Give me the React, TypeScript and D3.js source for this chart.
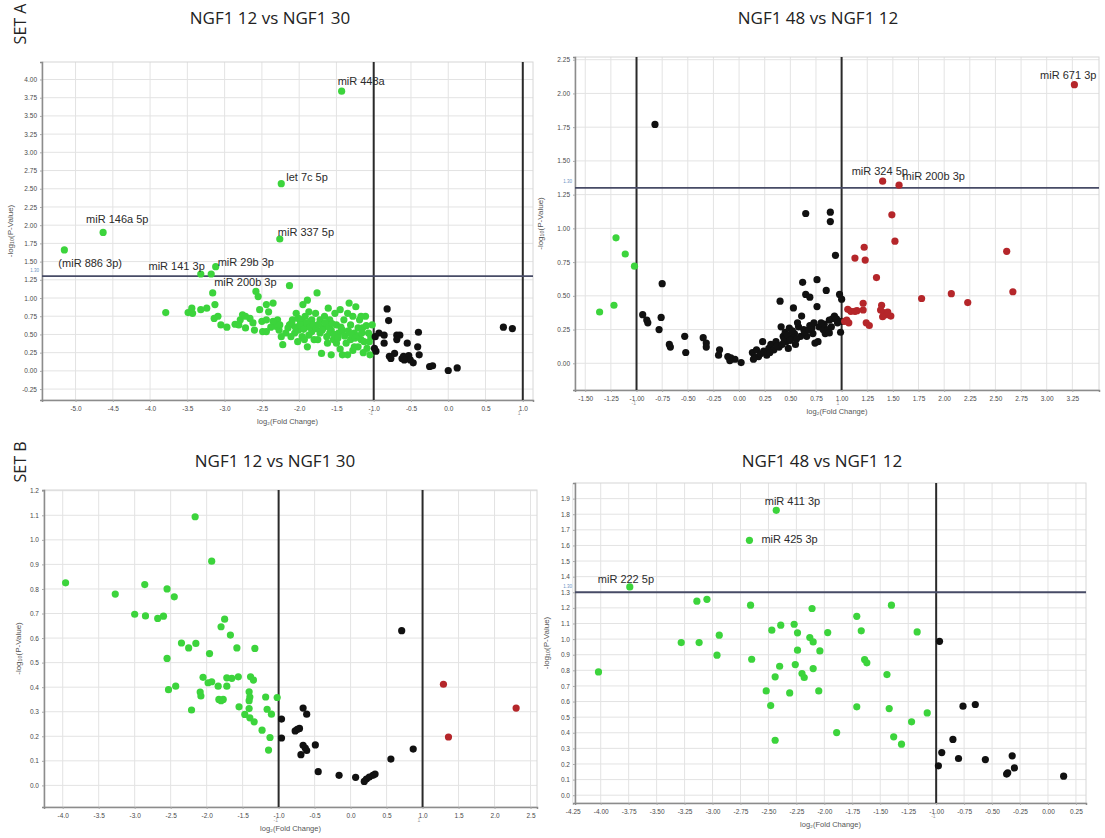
import React, { useEffect, useRef } from "react";
import * as d3 from "d3";

type Pt = [number, number];
type Lab = { name: string; x: number; y: number; color: string };

const GREEN = "#3cd43c";
const BLACK = "#111111";
const RED = "#b5262a";

// ---------- SET A : NGF1 12 vs NGF1 30 ----------
const a1Green: Pt[] = [
  [-3.79, 0.8], [-3.49, 0.8], [-3.44, 0.86], [-3.43, 0.79], [-3.24, 0.86], [-3.16, 1.07], [-3.13, 0.91],
  [-3.09, 0.75], [-3.05, 0.63], [-2.97, 0.6], [-2.81, 0.63], [-2.79, 0.7], [-2.76, 0.77], [-2.72, 0.59],
  [-2.66, 0.72], [-2.58, 1.09], [-2.55, 1.02], [-2.53, 0.84], [-2.5, 0.68], [-2.49, 0.54], [-2.44, 0.91],
  [-2.41, 0.81], [-2.35, 0.93], [-2.31, 0.61], [-2.29, 0.7], [-2.27, 0.56], [-2.22, 0.36], [-2.18, 0.52],
  [-2.13, 1.17], [-2.13, 0.63], [-2.09, 0.7], [-2.06, 0.52], [-2.04, 0.79], [-2.01, 0.56], [-1.98, 0.68],
  [-1.96, 0.47], [-1.95, 0.91], [-1.92, 0.61], [-1.89, 0.97], [-1.87, 0.81], [-1.85, 0.68], [-1.83, 0.54],
  [-1.8, 0.43], [-1.76, 1.07], [-1.72, 0.7], [-1.7, 0.24], [-1.68, 0.59], [-1.66, 0.75], [-1.63, 0.47],
  [-1.61, 0.86], [-1.59, 0.7], [-1.57, 0.56], [-1.54, 0.43], [-1.52, 0.79], [-1.5, 0.63], [-1.47, 0.52],
  [-1.45, 0.84], [-1.42, 0.22], [-1.4, 0.7], [-1.37, 0.38], [-1.35, 0.22], [-1.33, 0.93], [-1.31, 0.63],
  [-1.28, 0.75], [-1.26, 0.52], [-1.24, 0.88], [-1.21, 0.33], [-1.19, 0.7], [-1.17, 0.43], [-1.15, 0.59],
  [-1.11, 0.75], [-1.09, 0.31], [-1.07, 0.52], [-1.05, 0.22], [-1.02, 0.63], [-2.35, 0.68], [-2.15, 0.59],
  [-1.89, 0.33], [-1.57, 0.22], [-2.72, 0.75], [-2.44, 0.7], [-1.78, 0.79], [-2.24, 0.47], [-1.96, 0.7],
  [-1.92, 0.75], [-1.83, 0.7], [-1.72, 0.52], [-1.59, 0.52], [-1.5, 0.38], [-1.31, 0.43], [-1.17, 0.75],
  [-1.26, 0.33], [-2.11, 0.47], [-2.01, 0.72], [-1.87, 0.49], [-1.63, 0.63], [-1.42, 0.56], [-1.21, 0.59],
  [-1.35, 0.79], [-2.44, 0.54], [-2.6, 0.56], [-2.1, 0.66], [-2.05, 0.6], [-1.99, 0.63], [-1.94, 0.57],
  [-1.9, 0.66], [-1.86, 0.6], [-1.81, 0.63], [-1.77, 0.58], [-1.74, 0.64], [-1.69, 0.56], [-1.65, 0.66],
  [-1.6, 0.6], [-1.56, 0.65], [-1.53, 0.5], [-1.48, 0.45], [-1.44, 0.6], [-1.39, 0.48], [-1.34, 0.55],
  [-1.3, 0.5], [-1.25, 0.45], [-1.2, 0.48], [-1.16, 0.52], [-1.13, 0.4], [-1.1, 0.62], [-1.06, 0.4],
  [-1.04, 0.47], [-2.02, 0.4], [-1.93, 0.43], [-1.75, 0.43], [-1.62, 0.38], [-1.45, 0.3], [-1.28, 0.28],
  [-1.14, 0.25], [-2.26, 0.63], [-2.38, 0.6], [-2.62, 0.66], [-2.86, 0.64], [-3.32, 0.84], [-3.14, 0.72],
];
const a1Black: Pt[] = [
  [-0.97, 0.27], [-0.98, 0.47], [-0.93, 0.52], [-0.86, 0.49], [-0.86, 0.38], [-0.82, 0.85], [-0.8, 0.69],
  [-0.79, 0.2], [-0.72, 0.24], [-0.69, 0.49], [-0.65, 0.49], [-0.69, 0.43], [-0.62, 0.17], [-0.6, 0.2],
  [-0.55, 0.38], [-0.53, 0.21], [-0.51, 0.15], [-0.47, 0.11], [-0.41, 0.33], [-0.4, 0.53], [-0.39, 0.22],
  [-0.25, 0.06], [-0.21, 0.07], [0.0, 0.005], [0.12, 0.04], [0.74, 0.6], [0.86, 0.58], [-0.77, 0.17],
  [-0.99, 0.31], [-0.59, 0.15],
];
const a1Labeled: Lab[] = [
  { name: "miR 448a", x: -1.43, y: 3.84, color: GREEN },
  { name: "let 7c 5p", x: -2.24, y: 2.57, color: GREEN },
  { name: "miR 146a 5p", x: -4.63, y: 1.9, color: GREEN },
  { name: "(miR 886 3p)", x: -5.15, y: 1.66, color: GREEN },
  { name: "miR 337 5p", x: -2.26, y: 1.81, color: GREEN },
  { name: "miR 29b 3p", x: -3.12, y: 1.43, color: GREEN },
  { name: "miR 141 3p", x: -3.32, y: 1.33, color: GREEN },
  { name: "miR 200b 3p", x: -3.18, y: 1.33, color: GREEN },
];

// ---------- SET A : NGF1 48 vs NGF1 12 ----------
const a2Green: Pt[] = [[-1.36, 0.38], [-1.22, 0.43], [-1.2, 0.93], [-1.11, 0.81], [-1.02, 0.72]];
const a2Black: Pt[] = [
  [-0.82, 1.77], [-0.75, 0.59], [-0.94, 0.36], [-0.9, 0.32], [-0.89, 0.3], [-0.76, 0.34], [-0.78, 0.25],
  [-0.68, 0.14], [-0.67, 0.12], [-0.53, 0.2], [-0.52, 0.08], [-0.35, 0.19], [-0.32, 0.15], [-0.32, 0.12],
  [-0.19, 0.1], [-0.2, 0.06], [-0.11, 0.05], [-0.08, 0.04], [-0.04, 0.03], [0.02, 0.005], [0.13, 0.08],
  [0.15, 0.045], [0.17, 0.1], [0.19, 0.05], [0.23, 0.16], [0.24, 0.09], [0.27, 0.06], [0.29, 0.11],
  [0.31, 0.14], [0.34, 0.1], [0.36, 0.16], [0.39, 0.12], [0.4, 0.46], [0.41, 0.27], [0.43, 0.2],
  [0.45, 0.23], [0.46, 0.16], [0.49, 0.26], [0.51, 0.19], [0.53, 0.41], [0.54, 0.22], [0.58, 0.27],
  [0.6, 0.2], [0.61, 0.35], [0.62, 0.6], [0.63, 0.25], [0.65, 0.51], [0.66, 0.2], [0.69, 0.49],
  [0.69, 0.28], [0.72, 0.22], [0.74, 0.15], [0.76, 0.62], [0.76, 0.42], [0.78, 0.27], [0.82, 0.25],
  [0.84, 0.22], [0.85, 0.54], [0.88, 0.32], [0.91, 0.33], [0.9, 0.27], [0.65, 1.11], [0.89, 1.12],
  [0.89, 1.05], [0.94, 0.8], [0.98, 0.51], [1.0, 0.475], [0.93, 0.35], [0.95, 0.33], [1.0, 0.31],
  [0.99, 0.23], [0.96, 0.3], [0.83, 0.29], [0.87, 0.25], [0.88, 0.225], [0.77, 0.16], [0.44, 0.18],
  [0.47, 0.21], [0.5, 0.17], [0.52, 0.24], [0.56, 0.18], [0.57, 0.3], [0.64, 0.23], [0.68, 0.25],
  [0.71, 0.26], [0.73, 0.3], [0.8, 0.3], [0.3, 0.08], [0.21, 0.07], [0.37, 0.13], [0.42, 0.14],
  [0.55, 0.14], [0.48, 0.11], [-0.09, 0.02], [0.14, 0.03],
];
const a2Red: Pt[] = [
  [1.49, 1.1], [1.52, 0.905], [1.22, 0.86], [1.13, 0.78], [1.23, 0.765], [1.34, 0.635], [1.78, 0.48],
  [2.07, 0.516], [2.23, 0.45], [2.61, 0.83], [2.67, 0.53], [1.06, 0.4], [1.09, 0.385], [1.13, 0.385],
  [1.15, 0.39], [1.21, 0.445], [1.21, 0.395], [1.39, 0.43], [1.38, 0.395], [1.41, 0.375], [1.44, 0.36],
  [1.4, 0.345], [1.48, 0.35], [1.24, 0.3], [1.27, 0.28], [1.03, 0.31], [1.07, 0.3], [1.05, 0.32],
  [1.45, 0.38],
];
const a2Labeled: Lab[] = [
  { name: "miR 671 3p", x: 3.27, y: 2.065, color: RED },
  { name: "miR 324 5p", x: 1.4, y: 1.35, color: RED },
  { name: "miR 200b 3p", x: 1.56, y: 1.32, color: RED },
];

// ---------- SET B : NGF1 12 vs NGF1 30 ----------
const b1Green: Pt[] = [
  [-2.16, 1.094], [-1.93, 0.913], [-3.96, 0.825], [-3.27, 0.779], [-2.86, 0.818], [-2.55, 0.8],
  [-2.45, 0.768], [-3.0, 0.697], [-2.85, 0.69], [-2.68, 0.68], [-2.6, 0.689], [-1.75, 0.677],
  [-1.8, 0.646], [-1.67, 0.612], [-2.35, 0.58], [-2.25, 0.56], [-2.15, 0.578], [-1.58, 0.56],
  [-1.33, 0.558], [-1.96, 0.537], [-2.55, 0.517], [-2.05, 0.44], [-1.98, 0.418], [-1.93, 0.422],
  [-1.84, 0.404], [-1.72, 0.438], [-1.65, 0.436], [-1.56, 0.442], [-1.72, 0.404], [-2.53, 0.39],
  [-2.43, 0.404], [-2.09, 0.38], [-2.08, 0.364], [-1.83, 0.35], [-1.8, 0.345], [-1.77, 0.35],
  [-2.21, 0.307], [-1.39, 0.442], [-1.35, 0.429], [-1.41, 0.381], [-1.4, 0.36], [-1.41, 0.345],
  [-1.55, 0.32], [-1.47, 0.289], [-1.4, 0.275], [-1.34, 0.259], [-1.41, 0.313], [-1.18, 0.36],
  [-1.16, 0.31], [-1.1, 0.29], [-1.23, 0.225], [-1.12, 0.195], [-1.14, 0.144], [-1.02, 0.358],
];
const b1Black: Pt[] = [
  [-0.96, 0.27], [-0.96, 0.193], [-0.66, 0.315], [-0.61, 0.29], [-0.77, 0.222], [-0.74, 0.228],
  [-0.71, 0.232], [-0.66, 0.163], [-0.63, 0.152], [-0.61, 0.142], [-0.49, 0.165], [-0.69, 0.125],
  [-0.45, 0.056], [-0.16, 0.041], [0.07, 0.033], [0.19, 0.016], [0.22, 0.026], [0.26, 0.034],
  [0.31, 0.041], [0.34, 0.046], [0.56, 0.107], [0.71, 0.63], [0.87, 0.148],
];
const b1Red: Pt[] = [[1.29, 0.412], [1.36, 0.197], [2.3, 0.315]];

// ---------- SET B : NGF1 48 vs NGF1 12 ----------
const b2Green: Pt[] = [
  [-4.02, 0.79], [-3.28, 0.978], [-3.12, 0.978], [-3.14, 1.243], [-3.05, 1.255], [-2.94, 1.025],
  [-2.96, 0.897], [-2.66, 1.217], [-2.65, 0.871], [-2.47, 1.057], [-2.39, 1.089], [-2.52, 0.668],
  [-2.48, 0.574], [-2.44, 0.352], [-2.44, 0.758], [-2.4, 0.826], [-2.31, 0.655], [-2.27, 1.095],
  [-2.24, 1.04], [-2.24, 0.929], [-2.26, 0.837], [-2.2, 0.779], [-2.18, 0.754], [-2.13, 1.01],
  [-2.1, 0.982], [-2.11, 1.196], [-2.1, 0.811], [-2.04, 0.924], [-2.05, 0.668], [-1.97, 1.042],
  [-1.89, 0.401], [-1.71, 1.146], [-1.71, 0.566], [-1.67, 1.053], [-1.64, 0.869], [-1.62, 0.848],
  [-1.44, 0.773], [-1.42, 0.555], [-1.4, 1.217], [-1.38, 0.374], [-1.31, 0.327], [-1.22, 0.47],
  [-1.17, 1.046], [-1.08, 0.527],
];
const b2Black: Pt[] = [
  [-0.97, 0.986], [-0.98, 0.188], [-0.95, 0.273], [-0.85, 0.357], [-0.8, 0.235], [-0.76, 0.57],
  [-0.65, 0.581], [-0.56, 0.228], [-0.37, 0.135], [-0.36, 0.143], [-0.32, 0.252], [-0.3, 0.175],
  [0.14, 0.122],
];
const b2Labeled: Lab[] = [
  { name: "miR 411 3p", x: -2.43, y: 1.825, color: GREEN },
  { name: "miR 425 3p", x: -2.67, y: 1.633, color: GREEN },
  { name: "miR 222 5p", x: -3.74, y: 1.334, color: GREEN },
];

// tick values
const a1XTicks = [-5, -4.5, -4, -3.5, -3, -2.5, -2, -1.5, -1, -0.5, 0, 0.5, 1];
const a1YTicks = [-0.25, 0, 0.25, 0.5, 0.75, 1, 1.25, 1.5, 1.75, 2, 2.25, 2.5, 2.75, 3, 3.25, 3.5, 3.75, 4];
const a2XTicks = [-1.5, -1.25, -1, -0.75, -0.5, -0.25, 0, 0.25, 0.5, 0.75, 1, 1.25, 1.5, 1.75, 2, 2.25, 2.5, 2.75, 3, 3.25];
const a2YTicks = [0, 0.25, 0.5, 0.75, 1, 1.25, 1.5, 1.75, 2, 2.25];
const b1XTicks = [-4, -3.5, -3, -2.5, -2, -1.5, -1, -0.5, 0, 0.5, 1, 1.5, 2, 2.5];
const b1YTicks = [0, 0.1, 0.2, 0.3, 0.4, 0.5, 0.6, 0.7, 0.8, 0.9, 1.0, 1.1, 1.2];
const b2XTicks = [-4.25, -4, -3.75, -3.5, -3.25, -3, -2.75, -2.5, -2.25, -2, -1.75, -1.5, -1.25, -1, -0.75, -0.5, -0.25, 0, 0.25];
const b2YTicks = [0, 0.1, 0.2, 0.3, 0.4, 0.5, 0.6, 0.7, 0.8, 0.9, 1.0, 1.1, 1.2, 1.3, 1.4, 1.5, 1.6, 1.7, 1.8, 1.9];

// label placement: [dx, dy, anchor]
const labelPos: Record<string, [number, number, string]> = {
  "a1:miR 448a": [-4, -6, "start"],
  "a1:let 7c 5p": [5, -3, "start"],
  "a1:miR 146a 5p": [-17, -9, "start"],
  "a1:(miR 886 3p)": [-6, 17, "start"],
  "a1:miR 337 5p": [-2, -3, "start"],
  "a1:miR 29b 3p": [2, -1, "start"],
  "a1:miR 141 3p": [4, -4, "end"],
  "a1:miR 200b 3p": [3, 12, "start"],
  "a2:miR 671 3p": [22, -6, "end"],
  "a2:miR 324 5p": [-31, -6, "start"],
  "a2:miR 200b 3p": [3.5, -5, "start"],
  "b2:miR 411 3p": [-11.5, -5, "start"],
  "b2:miR 425 3p": [12, 3, "start"],
  "b2:miR 222 5p": [-32, -4, "start"],
};

type Cfg = {
  id: string;
  title: string;
  titleX: number;
  titleY: number;
  yTitleX: number;
  left: number; top: number; right: number; bottom: number;
  xDomain: [number, number];
  yDomain: [number, number];
  xTicks: number[]; yTicks: number[];
  xDec: number; yDec: number;
  vLines: number[];
  hLine: number | null;
  green: Pt[]; black: Pt[]; red: Pt[];
  labeled: Lab[];
};

const panels: Cfg[] = [
  {
    id: "a1", title: "NGF1 12 vs NGF1 30", titleX: 270, titleY: 24, yTitleX: 13,
    left: 42, top: 62, right: 533, bottom: 400,
    xDomain: [-5.45, 1.137], yDomain: [-0.4, 4.24],
    xTicks: a1XTicks, yTicks: a1YTicks, xDec: 1, yDec: 2,
    vLines: [-1, 1], hLine: 1.3,
    green: a1Green, black: a1Black, red: [], labeled: a1Labeled,
  },
  {
    id: "a2", title: "NGF1 48 vs NGF1 12", titleX: 818, titleY: 24, yTitleX: 543,
    left: 575, top: 57, right: 1099, bottom: 390,
    xDomain: [-1.6, 3.51], yDomain: [-0.198, 2.27],
    xTicks: a2XTicks, yTicks: a2YTicks, xDec: 2, yDec: 2,
    vLines: [-1, 1], hLine: 1.3,
    green: a2Green, black: a2Black, red: a2Red, labeled: a2Labeled,
  },
  {
    id: "b1", title: "NGF1 12 vs NGF1 30", titleX: 275, titleY: 467, yTitleX: 21,
    left: 44, top: 490, right: 537, bottom: 807,
    xDomain: [-4.26, 2.59], yDomain: [-0.088, 1.203],
    xTicks: b1XTicks, yTicks: b1YTicks, xDec: 1, yDec: 1,
    vLines: [-1, 1], hLine: null,
    green: b1Green, black: b1Black, red: b1Red, labeled: [],
  },
  {
    id: "b2", title: "NGF1 48 vs NGF1 12", titleX: 822, titleY: 467, yTitleX: 549,
    left: 575, top: 483, right: 1086, bottom: 803,
    xDomain: [-4.23, 0.34], yDomain: [-0.05, 2.0],
    xTicks: b2XTicks, yTicks: b2YTicks, xDec: 2, yDec: 1,
    vLines: [-1], hLine: 1.3,
    green: b2Green, black: b2Black, red: [], labeled: b2Labeled,
  },
];

const TICK_FONT = "'Liberation Sans', Arial, sans-serif";
const R = 3.6;

function Volcano({ cfg }: { cfg: Cfg }) {
  const ref = useRef<SVGGElement>(null);

  useEffect(() => {
    const g = d3.select(ref.current);
    g.selectAll("*").remove();

    const x = d3.scaleLinear().domain(cfg.xDomain).range([cfg.left, cfg.right]);
    const y = d3.scaleLinear().domain(cfg.yDomain).range([cfg.bottom, cfg.top]);

    // grid
    g.append("g")
      .selectAll("line")
      .data(cfg.xTicks)
      .join("line")
      .attr("x1", (d) => x(d)).attr("x2", (d) => x(d))
      .attr("y1", cfg.top).attr("y2", cfg.bottom)
      .attr("stroke", "#e3e3e3");
    g.append("g")
      .selectAll("line")
      .data(cfg.yTicks)
      .join("line")
      .attr("y1", (d) => y(d)).attr("y2", (d) => y(d))
      .attr("x1", cfg.left).attr("x2", cfg.right)
      .attr("stroke", "#e3e3e3");

    g.append("rect")
      .attr("x", cfg.left).attr("y", cfg.top)
      .attr("width", cfg.right - cfg.left).attr("height", cfg.bottom - cfg.top)
      .attr("fill", "none").attr("stroke", "#d6d6d6");

    // axes
    const xAxis = g.append("g")
      .attr("transform", `translate(0,${cfg.bottom})`)
      .call(
        d3.axisBottom(x)
          .tickValues(cfg.xTicks)
          .tickFormat((d) => (d as number).toFixed(cfg.xDec))
          .tickSize(2)
          .tickPadding(4)
      );
    const yAxis = g.append("g")
      .attr("transform", `translate(${cfg.left},0)`)
      .call(
        d3.axisLeft(y)
          .tickValues(cfg.yTicks)
          .tickFormat((d) => (d as number).toFixed(cfg.yDec))
          .tickSize(2)
          .tickPadding(3)
      );
    [xAxis, yAxis].forEach((a) => {
      a.select(".domain").attr("stroke", "#8c8c8c").attr("stroke-width", 1.5);
      a.selectAll(".tick line").attr("stroke", "#aaa");
      a.selectAll("text")
        .attr("font-size", 6.5)
        .attr("font-family", TICK_FONT)
        .attr("fill", "#4a4a4a");
    });

    // thresholds
    cfg.vLines.forEach((v) => {
      g.append("line")
        .attr("x1", x(v)).attr("x2", x(v))
        .attr("y1", cfg.top).attr("y2", cfg.bottom)
        .attr("stroke", "#2a2a2a").attr("stroke-width", 2);
      g.append("text")
        .attr("x", x(v) - 5).attr("y", cfg.bottom + 15)
        .attr("font-size", 5).attr("font-family", TICK_FONT)
        .attr("fill", "#999")
        .text(v < 0 ? "-1" : "1");
    });
    if (cfg.hLine !== null) {
      g.append("line")
        .attr("x1", cfg.left).attr("x2", cfg.right)
        .attr("y1", y(cfg.hLine)).attr("y2", y(cfg.hLine))
        .attr("stroke", "#474b66").attr("stroke-width", 1.8);
      g.append("text")
        .attr("x", cfg.left - 3).attr("y", y(cfg.hLine) - 4.5)
        .attr("text-anchor", "end")
        .attr("font-size", 4.5).attr("font-family", TICK_FONT)
        .attr("fill", "#6b93c4")
        .text(cfg.hLine.toFixed(2));
    }

    // points
    const dots = (data: Pt[], color: string) =>
      g.append("g")
        .selectAll("circle")
        .data(data)
        .join("circle")
        .attr("cx", (d) => x(d[0]))
        .attr("cy", (d) => y(d[1]))
        .attr("r", R)
        .attr("fill", color);
    dots(cfg.green, GREEN);
    dots(cfg.black, BLACK);
    dots(cfg.red, RED);

    g.append("g")
      .selectAll("circle")
      .data(cfg.labeled)
      .join("circle")
      .attr("cx", (d) => x(d.x))
      .attr("cy", (d) => y(d.y))
      .attr("r", R)
      .attr("fill", (d) => d.color);

    g.append("g")
      .selectAll("text")
      .data(cfg.labeled)
      .join("text")
      .attr("x", (d) => x(d.x) + labelPos[`${cfg.id}:${d.name}`][0])
      .attr("y", (d) => y(d.y) + labelPos[`${cfg.id}:${d.name}`][1])
      .attr("text-anchor", (d) => labelPos[`${cfg.id}:${d.name}`][2])
      .attr("font-size", 11)
      .attr("font-family", TICK_FONT)
      .attr("fill", "#2b2b2b")
      .text((d) => d.name);
  }, [cfg]);

  const cx = (cfg.left + cfg.right) / 2;
  const cy = (cfg.top + cfg.bottom) / 2;
  return (
    <g>
      <text
        x={cfg.titleX}
        y={cfg.titleY}
        textAnchor="middle"
        fontFamily="'Open Sans', sans-serif"
        fontSize={17}
        fill="#222"
      >
        {cfg.title}
      </text>
      <text
        x={cx}
        y={cfg.bottom + 24}
        textAnchor="middle"
        fontFamily={TICK_FONT}
        fontSize={7.5}
        fill="#555"
      >
        log₂(Fold Change)
      </text>
      <text
        transform={`translate(${cfg.yTitleX},${cy}) rotate(-90)`}
        textAnchor="middle"
        fontFamily={TICK_FONT}
        fontSize={8}
        fill="#555"
      >
        -log₁₀(P-Value)
      </text>
      <g ref={ref}></g>
    </g>
  );
}

export default function App() {
  return (
    <svg
      width={1105}
      height={838}
      style={{ position: "absolute", left: 0, top: 0, background: "#fff" }}
    >
      <rect width={1105} height={838} fill="#fff" />
      <text
        transform="translate(26,24) rotate(-90)"
        textAnchor="middle"
        fontFamily="'Open Sans', sans-serif"
        fontSize={16}
        fill="#222"
      >
        SET A
      </text>
      <text
        transform="translate(26,462) rotate(-90)"
        textAnchor="middle"
        fontFamily="'Open Sans', sans-serif"
        fontSize={16}
        fill="#222"
      >
        SET B
      </text>
      {panels.map((p) => (
        <Volcano key={p.id} cfg={p} />
      ))}
    </svg>
  );
}
